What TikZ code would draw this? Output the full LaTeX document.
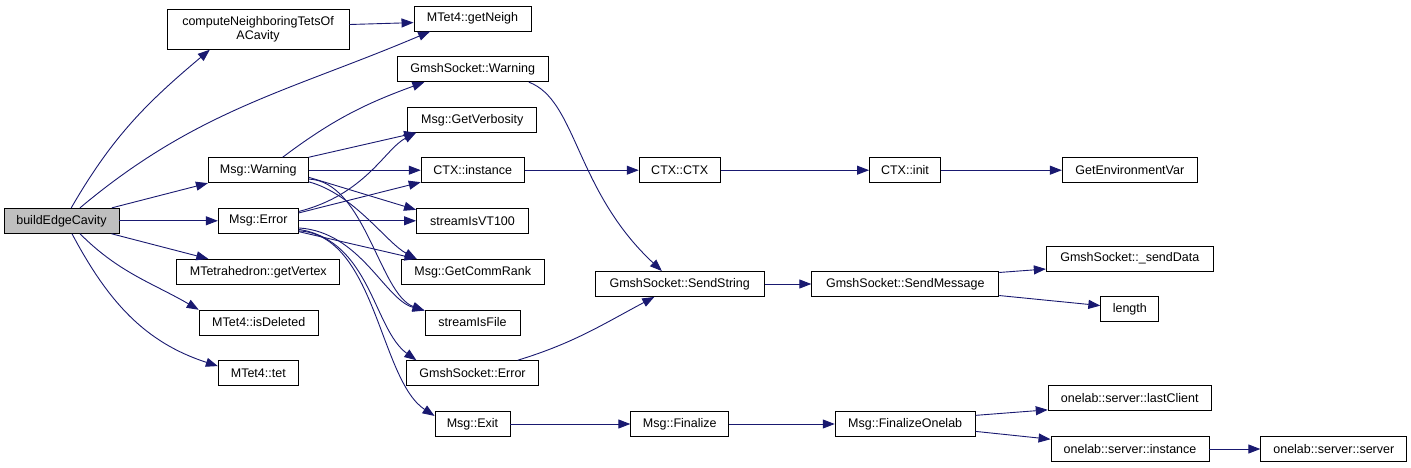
\documentclass[tikz,border=0pt]{standalone}
\usepackage{fontspec}
\setmainfont{Liberation Sans}
\usetikzlibrary{arrows.meta}
\definecolor{edgeblue}{HTML}{191970}
\definecolor{rootgray}{HTML}{BFBFBF}

\begin{document}
\begin{tikzpicture}[
    x=1pt, y=1pt,
    fn/.style={rectangle, draw=black, fill=white, line width=0.9pt, minimum height=25pt, inner sep=0pt, align=center, font=\fontsize{12.5}{14.3}\selectfont},
    rootfn/.style={fn, fill=rootgray},
    callarrow/.style={edgeblue, line width=0.9pt, -{Triangle[length=12pt, width=9pt]}}
]
\useasboundingbox (0,0) rectangle (1411,-468);

% Caller
\node[rootfn, minimum width=115pt] (bec) at (61.5,-220.8) {buildEdgeCavity};

% First level
\node[fn, minimum width=182pt, minimum height=40pt] (cnt) at (258,-29.3) {computeNeighboringTetsOf\\ACavity};
\node[fn, minimum width=100pt] (mwarn) at (258.3,-170.2) {Msg::Warning};
\node[fn, minimum width=80pt] (merr) at (258.3,-220.8) {Msg::Error};
\node[fn, minimum width=163pt] (getvert) at (258.3,-271.8) {MTetrahedron::getVertex};
\node[fn, minimum width=119pt] (isdel) at (258.7,-322.5) {MTet4::isDeleted};
\node[fn, minimum width=80pt] (tet) at (258.3,-373.2) {MTet4::tet};

% Second level
\node[fn, minimum width=117pt] (getneigh) at (472.5,-18.5) {MTet4::getNeigh};
\node[fn, minimum width=151pt] (gswarn) at (472.7,-69.2) {GmshSocket::Warning};
\node[fn, minimum width=129pt] (getverb) at (472.2,-119.8) {Msg::GetVerbosity};
\node[fn, minimum width=103pt] (ctxinst) at (472.7,-170.2) {CTX::instance};
\node[fn, minimum width=112pt] (vt100) at (472.5,-220.8) {streamIsVT100};
\node[fn, minimum width=143pt] (commrank) at (472.7,-271.8) {Msg::GetCommRank};
\node[fn, minimum width=95pt] (isfile) at (472.5,-322.5) {streamIsFile};
\node[fn, minimum width=132pt] (gserr) at (472.5,-373.2) {GmshSocket::Error};
\node[fn, minimum width=75pt] (mexit) at (472.5,-424) {Msg::Exit};

% Third level
\node[fn, minimum width=81pt] (ctxctx) at (679.7,-170.2) {CTX::CTX};
\node[fn, minimum width=169pt] (sendstr) at (679.7,-284) {GmshSocket::SendString};
\node[fn, minimum width=98pt] (finalize) at (679.8,-424) {Msg::Finalize};

% Fourth level
\node[fn, minimum width=71pt] (ctxinit) at (905,-170.2) {CTX::init};
\node[fn, minimum width=187pt] (sendmsg) at (905.3,-284) {GmshSocket::SendMessage};
\node[fn, minimum width=140pt] (finonelab) at (905.2,-424) {Msg::FinalizeOnelab};

% Fifth level
\node[fn, minimum width=135pt] (getenv) at (1129.8,-170.2) {GetEnvironmentVar};
\node[fn, minimum width=167pt] (senddata) at (1129.8,-258.7) {GmshSocket::\_sendData};
\node[fn, minimum width=58pt] (length) at (1129.8,-309.2) {length};
\node[fn, minimum width=163pt] (lastclient) at (1129.7,-398.3) {onelab::server::lastClient};
\node[fn, minimum width=158pt] (olinst) at (1130,-449) {onelab::server::instance};
\node[fn, minimum width=146pt] (olserver) at (1333.8,-449) {onelab::server::server};

% Calls from buildEdgeCavity
\draw[callarrow] (bec.53) to[out=60, in=220] (cnt.203);
\draw[callarrow] (bec.35) to[out=40, in=203] (getneigh.197);
\draw[callarrow] (bec) -- (mwarn);
\draw[callarrow] (bec) -- (merr);
\draw[callarrow] (bec) -- (getvert);
\draw[callarrow] (bec.-35) to[out=-45, in=150] (isdel.168);
\draw[callarrow] (bec.-51) to[out=-62, in=162] (tet.170);
\draw[callarrow] (cnt.3) -- (getneigh.184);

% Calls from Msg::Warning
\draw[callarrow] (mwarn.28) to[out=37, in=200] (gswarn.195);
\draw[callarrow] (mwarn.north east) -- (getverb.193);
\draw[callarrow] (mwarn) -- (ctxinst);
\draw[callarrow] (mwarn.-8) -- (vt100.169);
\draw[callarrow] (mwarn.-13) .. controls +(45,-12) and +(-30,16) .. (commrank.167);
\draw[callarrow] (mwarn.-10) .. controls +(56,-2) and +(-45,16) .. (isfile.166);

% Calls from Msg::Error
\draw[callarrow] (merr.13) .. controls +(67,17) and +(-31,-16) .. (getverb.193);
\draw[callarrow] (merr.11) -- (ctxinst.193);
\draw[callarrow] (merr) -- (vt100);
\draw[callarrow] (merr.-15) -- (commrank.167);
\draw[callarrow] (merr.-10) .. controls +(62,-4) and +(-40,11) .. (isfile.166);
\draw[callarrow] (merr.-12) .. controls +(72,-11) and +(-43,31) .. (gserr.167);
\draw[callarrow] (merr.-14) .. controls +(77,-4) and +(-55,36) .. (mexit.168);

% Deeper calls
\draw[callarrow] (gswarn.-13) .. controls +(48,-18) and +(-87,81) .. (sendstr.144);
\draw[callarrow] (gserr.16) to[out=17, in=208] (sendstr.207);
\draw[callarrow] (ctxinst) -- (ctxctx);
\draw[callarrow] (ctxctx) -- (ctxinit);
\draw[callarrow] (ctxinit) -- (getenv);
\draw[callarrow] (sendstr) -- (sendmsg);
\draw[callarrow] (sendmsg.7) -- (senddata.187);
\draw[callarrow] (sendmsg.-7) -- (length.173);
\draw[callarrow] (mexit) -- (finalize);
\draw[callarrow] (finalize) -- (finonelab);
\draw[callarrow] (finonelab.7) -- (lastclient.188);
\draw[callarrow] (finonelab.-6) -- (olinst.173);
\draw[callarrow] (olinst) -- (olserver);

\end{tikzpicture}
\end{document}
